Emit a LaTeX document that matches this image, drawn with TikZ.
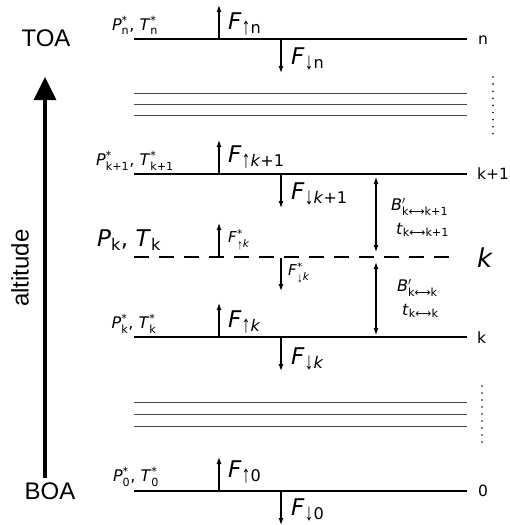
\documentclass[tikz,border=0pt]{standalone}
\usepackage{fontspec}
\usepackage{amsmath}
\usepackage{graphicx}
\setmainfont{DejaVu Sans}
\newfontfamily\arialfont{Liberation Sans}
\usetikzlibrary{arrows.meta}

\newcommand{\fsize}[1]{\fontsize{#1}{#1}\selectfont}
\newcommand{\upa}{\raisebox{-0.15ex}{\scalebox{1.1}[1.5]{\arialfont ↑}}}
\newcommand{\dna}{\raisebox{-0.15ex}{\scalebox{1.1}[1.5]{\arialfont ↓}}}
\newcommand{\upb}{\raisebox{-0.3ex}{\scalebox{1.1}[1.3]{\arialfont ↑}}}
\newcommand{\dnb}{\raisebox{-0.3ex}{\scalebox{1.1}[1.3]{\arialfont ↓}}}

\begin{document}
\begin{tikzpicture}[x=1pt,y=-1pt]
    \tikzstyle{farr}=[line width=1.2pt,-{Latex[length=7pt,width=5pt]}]
    \tikzstyle{barr}=[line width=1.2pt,{Latex[length=7pt,width=5pt]}-{Latex[length=7pt,width=5pt]}]
    \tikzstyle{lyr}=[line width=1.3pt]
    \tikzstyle{thinlyr}=[line width=1pt,black!70]
    \tikzstyle{lbl}=[inner sep=0pt]

    \useasboundingbox (0,0) rectangle (510,525);

    % levels
    \foreach \name/\y in {n/39, kp/174, k/337, z/491} {
        \coordinate (\name-l) at (134,\y);
        \coordinate (\name-r) at (467,\y);
        \draw[lyr] (\name-l) -- (\name-r);
        \coordinate (\name-up) at (219,\y-34);
        \coordinate (\name-dn) at (281,\y+34);
        \draw[farr] (219,\y) coordinate (\name-ua) -- (\name-up);
        \draw[farr] (281,\y) coordinate (\name-da) -- (\name-dn);
    }
    \foreach \y in {93, 104, 115, 402, 414, 426} {
        \draw[thinlyr] (134,\y) -- (467,\y);
    }
    \coordinate (m-l) at (134,257);
    \coordinate (m-r) at (454,257);
    \draw[line width=2.2pt,dash pattern=on 15pt off 10pt] (m-l) -- (m-r);
    \draw[farr] (219,257) coordinate (m-ua) -- (219,223) coordinate (m-up);
    \draw[farr] (281,258) coordinate (m-da) -- (281,291) coordinate (m-dn);

    % dots
    \foreach \i in {0,...,8} {
        \fill (493,77+\i*7.1) circle (0.9);
        \fill (482,386+\i*7) circle (0.9);
    }

    % exchange arrows
    \coordinate (ex1-t) at (376,177);
    \coordinate (ex1-b) at (376,252);
    \coordinate (ex2-t) at (376,262);
    \coordinate (ex2-b) at (376,335);
    \draw[barr] (ex1-t) -- (ex1-b);
    \draw[barr] (ex2-t) -- (ex2-b);

    % altitude
    \node[lbl,font=\arialfont\fsize{24}] (toa) at (46,38) {TOA};
    \node[lbl,font=\arialfont\fsize{24}] (boa) at (50,491) {BOA};
    \node[lbl,font=\arialfont\fsize{24},rotate=90] (alt) at (20,268) {altitude};
    \coordinate (alt-s) at (45,478);
    \coordinate (alt-e) at (45,77);
    \draw[line width=3.5pt,-{Triangle[width=22pt,length=23pt]}] (alt-s) -- (alt-e);

    { \fsize{16}
        \node[lbl,anchor=south] (pt-n) at (135,35) {\textit{P}$^{\text{*}}_{\text{n}}$, \textit{T}$^{\text{*}}_{\text{n}}$};
        \node[lbl,anchor=south] (pt-kp) at (135,171) {\textit{P}$^{\text{*}}_{\text{k+1}}$, \textit{T}$^{\text{*}}_{\text{k+1}}$};
        \node[lbl,anchor=south] (pt-k) at (134,334) {\textit{P}$^{\text{*}}_{\text{k}}$, \textit{T}$^{\text{*}}_{\text{k}}$};
        \node[lbl,anchor=south] (pt-z) at (136,487) {\textit{P}$^{\text{*}}_{\text{0}}$, \textit{T}$^{\text{*}}_{\text{0}}$};
        \node[lbl,anchor=west] (b1) at (391,207) {\textit{B}$'_{\text{k⟷k+1}}$};
        \node[lbl,anchor=west] (t1) at (396,230) {\textit{t}$_{\text{k⟷k+1}}$};
        \node[lbl,anchor=west] (b2) at (397,288) {\textit{B}$'_{\text{k⟷k}}$};
        \node[lbl,anchor=west] (t2) at (402,311) {\textit{t}$_{\text{k⟷k}}$};
    }
    { \fsize{15}
        \node[lbl,anchor=west] (fs-up) at (228,240) {\textit{F}$^{\text{*}}_{\text{\upb\textit{k}}}$};
        \node[lbl,anchor=west] (fs-dn) at (288,273) {\textit{F}$^{\text{*}}_{\text{\dnb\textit{k}}}$};
    }
    { \fsize{15.5}
        \node[lbl,anchor=west] (lv-n) at (478,40) {n};
        \node[lbl,anchor=west] (lv-kp) at (477,174) {k+1};
        \node[lbl,anchor=west] (lv-k) at (477,338) {k};
        \node[lbl,anchor=west] (lv-z) at (478,491) {0};
    }
    \node[lbl,anchor=west,font=\fsize{26}] (lv-m) at (477,258) {\textit{k}};
    \node[lbl,anchor=west,font=\fsize{23}] (pt-m) at (97,240) {\textit{P}$_{\text{k}}$, \textit{T}$_{\text{k}}$};

    { \fsize{23}
        \node[lbl,anchor=west] (f-un) at (228,24) {\textit{F}$_{\text{\upa n}}$};
        \node[lbl,anchor=west] (f-dn) at (291,59) {\textit{F}$_{\text{\dna n}}$};
        \node[lbl,anchor=west] (f-ukp) at (228,157) {\textit{F}$_{\text{\upa\textit{k}+1}}$};
        \node[lbl,anchor=west] (f-dkp) at (291,194) {\textit{F}$_{\text{\dna\textit{k}+1}}$};
        \node[lbl,anchor=west] (f-uk) at (228,322) {\textit{F}$_{\text{\upa\textit{k}}}$};
        \node[lbl,anchor=west] (f-dk) at (291,359) {\textit{F}$_{\text{\dna\textit{k}}}$};
        \node[lbl,anchor=west] (f-uz) at (228,472) {\textit{F}$_{\text{\upa 0}}$};
        \node[lbl,anchor=west] (f-dz) at (291,510) {\textit{F}$_{\text{\dna 0}}$};
    }
\end{tikzpicture}
\end{document}
